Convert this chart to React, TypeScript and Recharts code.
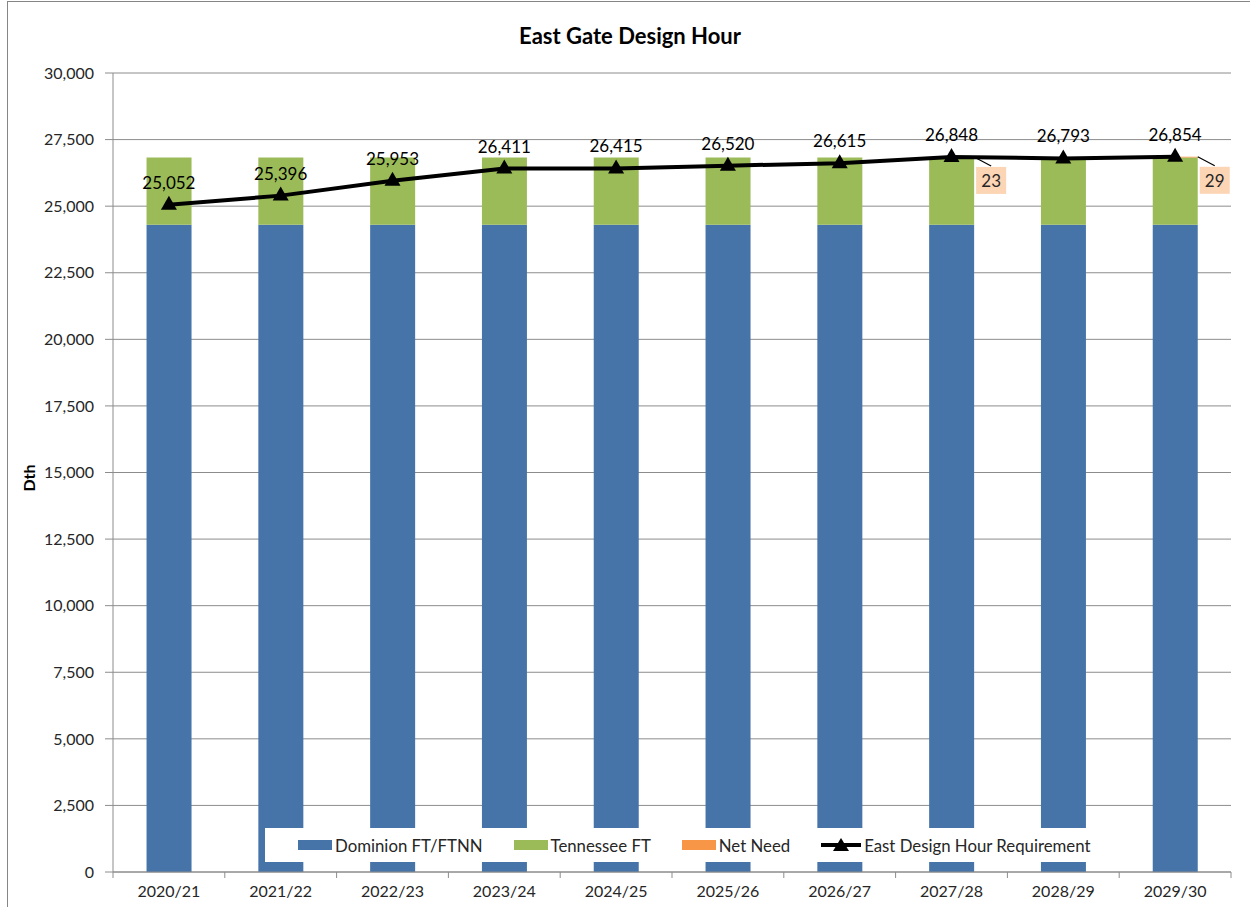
import { ComposedChart, Bar, Line, XAxis, YAxis, CartesianGrid, LabelList } from 'recharts';

const categories = ['2020/21', '2021/22', '2022/23', '2023/24', '2024/25', '2025/26', '2026/27', '2027/28', '2028/29', '2029/30'];
const dominion = [24300, 24300, 24300, 24300, 24300, 24300, 24300, 24300, 24300, 24300];
const tennessee = [2525, 2525, 2525, 2525, 2525, 2525, 2525, 2525, 2525, 2525];
const netNeed = [0, 0, 0, 0, 0, 0, 0, 23, 0, 29];
const requirement = [25052, 25396, 25953, 26411, 26415, 26520, 26615, 26848, 26793, 26854];
const yTicks = [0, 2500, 5000, 7500, 10000, 12500, 15000, 17500, 20000, 22500, 25000, 27500, 30000];

const COLORS = {
  dominion: '#4674A9',
  tennessee: '#9BBB59',
  netNeed: '#F79646',
  netLabel: '#FCD5B5',
  line: '#000000',
  grid: '#8C8C8C',
  text: '#262626',
};

const FONT = 'Lato, "Open Sans", sans-serif';
const W = 1250;
const H = 907;
const M = { top: 73, right: 19, left: 53, bottom: 5 };
const Y_AXIS_W = 60;
const PLOT_W = W - M.left - M.right - Y_AXIS_W;
const BAND = PLOT_W / categories.length;

const data = categories.map((c, i) => ({
  name: c,
  dominion: dominion[i],
  tennessee: tennessee[i],
  netNeed: netNeed[i],
  requirement: requirement[i],
}));

const TriangleDot = (props: any) => {
  const { cx, cy } = props;
  if (cx == null || cy == null) return null;
  return <path d={`M${cx},${cy - 9} L${cx + 8},${cy + 5} L${cx - 8},${cy + 5} Z`} fill={COLORS.line} />;
};

const XTick = (props: any) => {
  const { x, y, payload, index } = props;
  const left = x - BAND / 2;
  const axisY = y - 8;
  return (
    <g>
      <line x1={left} y1={axisY} x2={left} y2={axisY + 6} stroke={COLORS.grid} />
      {index === categories.length - 1 && (
        <line x1={left + BAND} y1={axisY} x2={left + BAND} y2={axisY + 6} stroke={COLORS.grid} />
      )}
      <text x={x} y={y + 17} textAnchor="middle" fontSize={16} fill={COLORS.text} fontFamily={FONT}>
        {payload.value}
      </text>
    </g>
  );
};

// callout placement for the net need labels (box offset from bar's top-right corner)
const CALLOUT: Record<number, { lx: number; ly: number; bx: number; by: number }> = {
  7: { lx: 17, ly: 9, bx: 2, by: 10 },
  9: { lx: 19, ly: 18, bx: 4, by: 19 },
};

const NetNeedLabel = (props: any) => {
  const { value, index, viewBox } = props;
  if (!value || !viewBox) return null;
  const off = CALLOUT[index] ?? { lx: 17, ly: 9, bx: 2, by: 10 };
  const x0 = viewBox.x + viewBox.width;
  const y0 = viewBox.y;
  const bx = x0 + off.bx;
  const by = y0 + off.by;
  return (
    <g>
      <line x1={x0} y1={y0} x2={x0 + off.lx} y2={y0 + off.ly} stroke="#000" strokeWidth={1.2} />
      <rect x={bx} y={by} width={30} height={27} fill={COLORS.netLabel} />
      <text x={bx + 15} y={by + 20} textAnchor="middle" fontSize={17} fill={COLORS.text} fontFamily={FONT}>
        {value}
      </text>
    </g>
  );
};

const legendItems = [
  { label: 'Dominion FT/FTNN', color: COLORS.dominion, type: 'rect' },
  { label: 'Tennessee FT', color: COLORS.tennessee, type: 'rect' },
  { label: 'Net Need', color: COLORS.netNeed, type: 'rect' },
  { label: 'East Design Hour Requirement', color: COLORS.line, type: 'line' },
];

export default function App() {
  return (
    <div style={{ position: 'relative', width: W, height: H, fontFamily: FONT, background: '#fff' }}>
      <style>{'body{margin:0}'}</style>
      <div style={{ position: 'absolute', left: 7, top: 1, width: 1250, height: 910, border: '1px solid #868686', boxSizing: 'border-box' }} />
      <div style={{ position: 'absolute', left: 5, top: 22, width: W, textAlign: 'center', fontSize: 22, fontWeight: 700, color: '#000' }}>
        East Gate Design Hour
      </div>
      <div style={{ position: 'absolute', left: 28, top: 478, transform: 'translate(-50%, -50%) rotate(-90deg)', fontSize: 16, fontWeight: 700, color: '#000' }}>
        Dth
      </div>
      <div style={{ position: 'absolute', left: 0, top: 0 }}>
        <ComposedChart width={W} height={H} data={data} margin={M} barCategoryGap="30%">
          <CartesianGrid vertical={false} stroke={COLORS.grid} />
          <XAxis
            dataKey="name"
            stroke={COLORS.grid}
            tickLine={false}
            tick={<XTick />}
            height={30}
            interval={0}
          />
          <YAxis
            width={Y_AXIS_W}
            domain={[0, 30000]}
            ticks={yTicks}
            stroke={COLORS.grid}
            tickSize={8}
            tickMargin={11}
            tick={{ fontSize: 16, fill: COLORS.text, fontFamily: FONT }}
            tickFormatter={(v: number) => v.toLocaleString('en-US')}
          />
          <Bar dataKey="dominion" stackId="a" fill={COLORS.dominion} isAnimationActive={false} />
          <Bar dataKey="tennessee" stackId="a" fill={COLORS.tennessee} isAnimationActive={false} />
          <Bar dataKey="netNeed" stackId="a" fill={COLORS.netNeed} isAnimationActive={false}>
            <LabelList dataKey="netNeed" content={<NetNeedLabel />} />
          </Bar>
          <Line
            type="linear"
            dataKey="requirement"
            stroke={COLORS.line}
            strokeWidth={4}
            dot={<TriangleDot />}
            activeDot={false}
            isAnimationActive={false}
          >
            <LabelList
              dataKey="requirement"
              position="top"
              offset={16}
              fontSize={17}
              fill="#000"
              fontFamily={FONT}
              formatter={(v: any) => Number(v).toLocaleString('en-US')}
            />
          </Line>
        </ComposedChart>
      </div>
      <div
        style={{
          position: 'absolute',
          left: 265,
          top: 828,
          width: 840,
          height: 34,
          background: '#fff',
          display: 'flex',
          alignItems: 'center',
          boxSizing: 'border-box',
          paddingLeft: 33,
          gap: 31,
          fontSize: 16.8,
          color: COLORS.text,
        }}
      >
        {legendItems.map((it) => (
          <span key={it.label} style={{ display: 'inline-flex', alignItems: 'center', gap: 3 }}>
            {it.type === 'rect' ? (
              <span style={{ display: 'inline-block', width: 34, height: 10, background: it.color }} />
            ) : (
              <svg width={40} height={16}>
                <line x1={0} y1={8} x2={40} y2={8} stroke={it.color} strokeWidth={4} />
                <path d="M20,1 L28,14 L12,14 Z" fill={it.color} />
              </svg>
            )}
            {it.label}
          </span>
        ))}
      </div>
    </div>
  );
}
